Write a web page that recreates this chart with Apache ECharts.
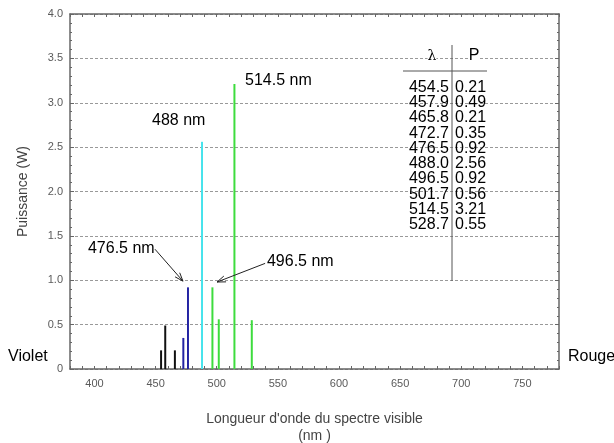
<!DOCTYPE html>
<html>
<head>
<meta charset="utf-8">
<script src="https://cdn.jsdelivr.net/npm/echarts@6/dist/echarts.min.js"></script>
<style>
html,body{margin:0;padding:0;background:#fff;}
#c{width:614px;height:443px;}
</style>
</head>
<body>
<div id="c"></div>
<script>
// ---- data ----
const wavelengths = [454.5, 457.9, 465.8, 472.7, 476.5, 488.0, 496.5, 501.7, 514.5, 528.7];
const powers      = [0.21, 0.49, 0.21, 0.35, 0.92, 2.56, 0.92, 0.56, 3.21, 0.55];
const xTickLabels = [400, 450, 500, 550, 600, 650, 700, 750];
const yTickLabels = ['0', '0.5', '1.0', '1.5', '2.0', '2.5', '3.0', '3.5', '4.0'];
const tableHeader = ['\u03bb', 'P'];
const annotationTexts = ['514.5 nm', '488 nm', '476.5 nm', '496.5 nm'];

// ---- layout (data-space anchors for annotations) ----
const labelAnchors = [[523.2, 3.25], [447.1, 2.80], [394.7, 1.36], [541.1, 1.21]];
const arrows = [
  [[449.5, 1.35], [472.4, 0.99]],
  [[539.6, 1.19], [500.3, 0.98]]
];

function barColor(w) {
  if (w < 470) return '#111111';
  if (w < 485) return '#2323a3';
  if (w < 492) return '#45e3ec';
  return '#3ddc3d';
}

const font = 'Liberation Sans, Arial, sans-serif';
const axisColor = '#666';
const labelColor = '#5a5a5a';

const chart = echarts.init(document.getElementById('c'), null, {renderer: 'canvas'});

const option = {
  animation: false,
  backgroundColor: '#fff',
  grid: {left: 70, right: 55, top: 14, bottom: 74, containLabel: false, outerBoundsMode: 'none'},
  xAxis: [
    {
      type: 'value', min: 380, max: 780, interval: 10, position: 'bottom',
      axisLine: {show: true, onZero: false, lineStyle: {color: axisColor, width: 1.5}},
      axisTick: {show: true, inside: true, length: 3, lineStyle: {color: axisColor}},
      splitLine: {show: false},
      axisLabel: {
        show: true, color: labelColor, fontSize: 11, fontFamily: font, margin: 9,
        formatter: v => xTickLabels.indexOf(v) >= 0 ? String(v) : ''
      },
      name: "Longueur d'onde du spectre visible\n(nm )",
      nameLocation: 'middle', nameGap: 42,
      nameTextStyle: {color: '#444', fontSize: 14, fontFamily: font, lineHeight: 17}
    },
    {
      type: 'value', min: 380, max: 780, interval: 10, position: 'top',
      axisLine: {show: true, onZero: false, lineStyle: {color: axisColor, width: 1.5}},
      axisTick: {show: true, inside: true, length: 3, lineStyle: {color: axisColor}},
      splitLine: {show: false}, axisLabel: {show: false}
    }
  ],
  yAxis: [
    {
      type: 'value', min: 0, max: 4, interval: 0.5, position: 'left',
      axisLine: {show: true, onZero: false, lineStyle: {color: axisColor, width: 1.5}},
      axisTick: {show: true, inside: true, length: 4, lineStyle: {color: axisColor}},
      minorTick: {show: true, splitNumber: 5, length: 2, lineStyle: {color: axisColor}},
      splitLine: {show: true, lineStyle: {color: '#999', type: [3, 2], width: 1}},
      axisLabel: {
        color: labelColor, fontSize: 11, fontFamily: font, margin: 7,
        formatter: v => yTickLabels[Math.round(v * 2)]
      },
      name: 'Puissance (W)', nameLocation: 'middle', nameGap: 40,
      nameTextStyle: {color: '#444', fontSize: 14, fontFamily: font}
    },
    {
      type: 'value', min: 0, max: 4, interval: 0.5, position: 'right',
      axisLine: {show: true, onZero: false, lineStyle: {color: axisColor, width: 1.5}},
      axisTick: {show: true, inside: true, length: 4, lineStyle: {color: axisColor}},
      minorTick: {show: true, splitNumber: 5, length: 2, lineStyle: {color: axisColor}},
      splitLine: {show: false}, axisLabel: {show: false}
    }
  ],
  series: [
    {
      type: 'bar', xAxisIndex: 0, yAxisIndex: 0, barWidth: 2,
      data: wavelengths.map((w, i) => [w, powers[i]]),
      itemStyle: {color: p => barColor(p.value[0])},
      z: 3
    }
  ]
};
chart.setOption(option);

// ---- annotations, table and side labels as graphics ----
const toPx = pt => chart.convertToPixel({xAxisIndex: 0, yAxisIndex: 0}, pt);
const elements = [];

annotationTexts.forEach((t, i) => {
  const p = toPx(labelAnchors[i]);
  elements.push({type: 'text', x: p[0], y: p[1], z: 10,
    style: {text: t, fill: '#000', font: '16px ' + font, textAlign: 'left', textVerticalAlign: 'middle'}});
});

arrows.forEach(a => {
  const s = toPx(a[0]), e = toPx(a[1]);
  elements.push({type: 'line', z: 10, shape: {x1: s[0], y1: s[1], x2: e[0], y2: e[1]},
    style: {stroke: '#222', lineWidth: 1}});
  const ang = Math.atan2(s[1] - e[1], s[0] - e[0]);
  const L = 9, spread = 0.35;
  elements.push({type: 'polyline', z: 10, shape: {points: [
      [e[0] + L * Math.cos(ang + spread), e[1] + L * Math.sin(ang + spread)],
      [e[0], e[1]],
      [e[0] + L * Math.cos(ang - spread), e[1] + L * Math.sin(ang - spread)]
    ]}, style: {stroke: '#222', lineWidth: 1, fill: null}});
});

// table
const tX = 452, tTop = 45, tBottom = 281, hY = 71, hX1 = 403, hX2 = 487;
const headY = 56, row0 = 87.5, rowH = 15.25;
elements.push({type: 'line', z: 10, shape: {x1: tX, y1: tTop, x2: tX, y2: tBottom}, style: {stroke: '#555', lineWidth: 1}});
elements.push({type: 'line', z: 10, shape: {x1: hX1, y1: hY, x2: hX2, y2: hY}, style: {stroke: '#555', lineWidth: 1}});
elements.push({type: 'text', z: 10, x: 432, y: headY, style: {text: tableHeader[0], fill: '#000',
  font: '14px DejaVu Serif, serif', textAlign: 'center', textVerticalAlign: 'middle', backgroundColor: '#fff'}});
elements.push({type: 'text', z: 10, x: 474, y: headY, style: {text: tableHeader[1], fill: '#000',
  font: '16px ' + font, textAlign: 'center', textVerticalAlign: 'middle', backgroundColor: '#fff'}});
wavelengths.forEach((w, i) => {
  const y = row0 + i * rowH;
  elements.push({type: 'text', z: 10, x: 449, y: y, style: {text: w.toFixed(1), fill: '#000',
    font: '16px ' + font, textAlign: 'right', textVerticalAlign: 'middle'}});
  elements.push({type: 'text', z: 10, x: 455, y: y, style: {text: powers[i].toFixed(2), fill: '#000',
    font: '16px ' + font, textAlign: 'left', textVerticalAlign: 'middle'}});
});

// side labels
elements.push({type: 'text', z: 10, x: 8, y: 357, style: {text: 'Violet', fill: '#000',
  font: '16px ' + font, textAlign: 'left', textVerticalAlign: 'middle'}});
elements.push({type: 'text', z: 10, x: 568, y: 357, style: {text: 'Rouge', fill: '#000',
  font: '16px ' + font, textAlign: 'left', textVerticalAlign: 'middle'}});

chart.setOption({graphic: {elements: elements}});
</script>
</body>
</html>
